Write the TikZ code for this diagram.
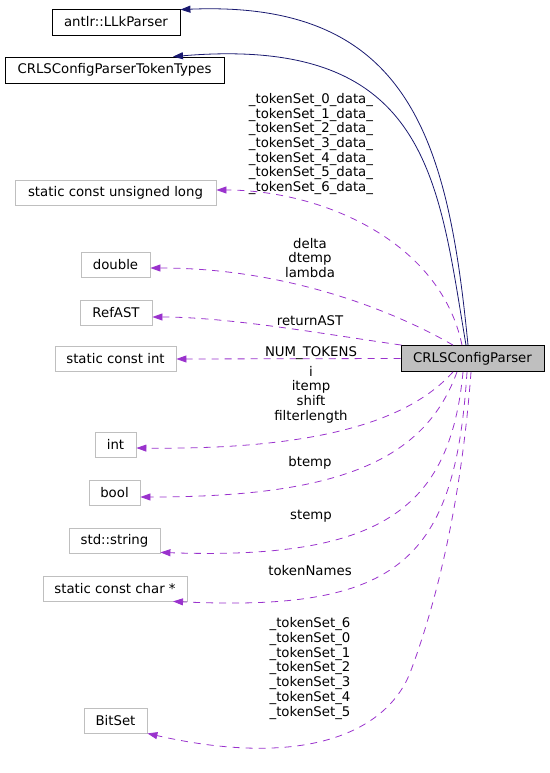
\documentclass[tikz,border=0pt]{standalone}
\usepackage{fontspec}
\setmainfont{DejaVu Sans}
\usetikzlibrary{arrows.meta}
\definecolor{membergrey}{HTML}{BFBFBF}
\definecolor{inheritblue}{HTML}{191970}
\definecolor{usagepurple}{HTML}{9A32CD}
\tikzset{
	dox/.style={font=\fontsize{13.3}{14.67}\selectfont},
	cls/.style={dox, draw=black, line width=0.8pt, inner sep=0pt, minimum height=26pt},
	member/.style={cls, draw=membergrey, minimum height=25pt},
	inherit/.style={draw=inheritblue, line width=0.8pt, -{Triangle[length=10pt,width=7pt]}},
	usage/.style={draw=usagepurple, line width=0.8pt, dash pattern=on 7pt off 6pt, -{Triangle[length=10pt,width=7pt]}},
	lbl/.style={dox, align=center, inner sep=0pt}
}
\begin{document}
\begin{tikzpicture}[x=1pt,y=-1pt]
	\useasboundingbox (0,0) rectangle (549,773);
	% Define the classes
	\node[cls, fill=membergrey, minimum width=143pt] (parser) at (472.5,358.5) {CRLSConfigParser};
	\node[cls, minimum width=128pt] (llk) at (116,22) {antlr::LLkParser};
	\node[cls, minimum width=219pt] (tokentypes) at (114.5,70) {CRLSConfigParserTokenTypes};
	% Define the member types
	\node[member, minimum width=201pt] (ulong) at (115.5,193) {static const unsigned long};
	\node[member, minimum width=69pt] (dbl) at (115.5,264.5) {double};
	\node[member, minimum width=72pt] (refast) at (116,312.5) {RefAST};
	\node[member, minimum width=121pt] (sint) at (115.5,359) {static const int};
	\node[member, minimum width=41pt] (int) at (115.5,444.5) {int};
	\node[member, minimum width=51pt] (bool) at (114.5,492.5) {bool};
	\node[member, minimum width=91pt] (str) at (114.5,540.5) {std::string};
	\node[member, minimum width=144pt] (cchar) at (115,588.5) {static const char *};
	\node[member, minimum width=63pt] (bitset) at (115.5,720.5) {BitSet};
	% Draw the inheritance
	\draw[inherit] ([xshift=-4.5pt]parser.north) .. controls (448,140) and (410,0) .. ([yshift=-1pt]llk.north east);
	\draw[inherit] ([xshift=-6.5pt]parser.north) .. controls (438,180) and (430,35) .. ([xshift=58.5pt]tokentypes.north);
	% Draw the members
	\draw[usage] ([xshift=-10.5pt]parser.north) .. controls (440,240) and (320,190) .. ([yshift=3pt]ulong.east);
	\draw[usage] ([xshift=-19.5pt]parser.north) .. controls (410,320) and (300,268) .. ([yshift=-3.5pt]dbl.east);
	\draw[usage] ([xshift=1pt]parser.north west) .. controls (330,335) and (230,317) .. ([yshift=-4.5pt]refast.east);
	\draw[usage] (parser.west) -- (sint.east);
	\draw[usage] ([xshift=-19.5pt]parser.south) .. controls (410,420) and (320,450) .. ([yshift=-3.5pt]int.east);
	\draw[usage] ([xshift=-15.5pt]parser.south) .. controls (425,460) and (340,497) .. ([yshift=-4.5pt]bool.east);
	\draw[usage] ([xshift=-9.5pt]parser.south) .. controls (450,510) and (380,560) .. ([yshift=1pt]str.south east);
	\draw[usage] ([xshift=-5.5pt]parser.south) .. controls (455,560) and (400,612) .. ([xshift=58pt]cchar.south);
	\coordinate (bend) at (410,673);
	\draw[usage] ([xshift=-1.5pt]parser.south) .. controls (460,520) and (430,620) .. (bend)
		.. controls (385,735) and (300,768) .. (bitset.south east);
	% Add labels
	\node[lbl] (lulong) at (311,144) {\_tokenSet\_0\_data\_\\\_tokenSet\_1\_data\_\\\_tokenSet\_2\_data\_\\\_tokenSet\_3\_data\_\\\_tokenSet\_4\_data\_\\\_tokenSet\_5\_data\_\\\_tokenSet\_6\_data\_};
	\node[lbl] (ldbl) at (310,258) {delta\\dtemp\\lambda};
	\node[lbl] (lrefast) at (310,321) {returnAST};
	\node[lbl] (lsint) at (311,353) {NUM\_TOKENS};
	\node[lbl] (lint) at (311,394.5) {i\\itemp\\shift\\filterlength};
	\node[lbl] (lbool) at (310,463) {btemp};
	\node[lbl] (lstr) at (311,516) {stemp};
	\node[lbl] (lcchar) at (310,571) {tokenNames};
	\node[lbl] (lbitset) at (310,668.5) {\_tokenSet\_6\\\_tokenSet\_0\\\_tokenSet\_1\\\_tokenSet\_2\\\_tokenSet\_3\\\_tokenSet\_4\\\_tokenSet\_5};
\end{tikzpicture}
\end{document}
